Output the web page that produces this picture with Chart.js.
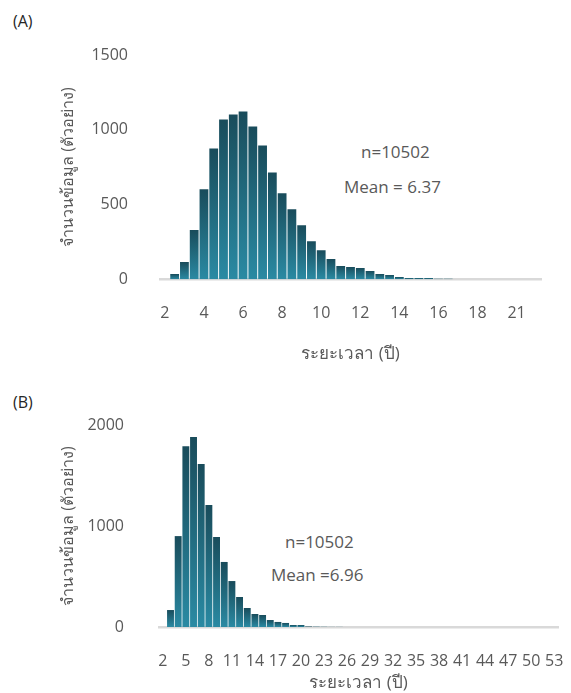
<!DOCTYPE html>
<html>
<head>
<meta charset="utf-8">
<script src="https://cdn.jsdelivr.net/npm/chart.js@4/dist/chart.umd.min.js"></script>
<style>
  html, body { margin: 0; padding: 0; background: #fff; }
  body { width: 571px; height: 693px; position: relative; overflow: hidden; font-family: "Open Sans", "Noto Sans", sans-serif; }
  .box { position: absolute; left: 0; width: 571px; }
  .lbl { position: absolute; white-space: nowrap; line-height: 1; }
  .panel { font-size: 16px; color: #262626; }
  .note { font-size: 17px; color: #595959; font-weight: 500; }
</style>
</head>
<body>
<div class="lbl panel" style="left:13px; top:13px;">(A)</div>
<div class="lbl panel" style="left:13px; top:394px;">(B)</div>
<div class="lbl note" style="left:361px; top:143px;">n=10502</div>
<div class="lbl note" style="left:344px; top:178px;">Mean = 6.37</div>
<div class="lbl note" style="left:285px; top:533px;">n=10502</div>
<div class="lbl note" style="left:271px; top:566px;">Mean =6.96</div>

<div class="box" style="top:30px; height:340px;"><canvas id="cA"></canvas></div>
<div class="box" style="top:380px; height:313px;"><canvas id="cB"></canvas></div>

<script>
// ---------- Data: panel (A) ----------
const categoriesA = ["2","2.5","3","3.5","4","4.5","5","5.5","6","6.5","7","7.5","8","8.5","9","9.5","10","10.5","11","11.5","12","12.5","13","13.5","14","14.5","15","15.5","16","16.5","17","17.5","18","18.5","19","20","21","21.5","22"];
const valuesA = [0,35,115,329,602,875,1069,1102,1122,1022,895,715,575,469,362,255,195,135,89,82,75,55,35,29,15,9,9,9,3,3,0,0,0,0,0,0,0,0,0];
const tickLabelsA = ["2","4","6","8","10","12","14","16","18","21"];
const yTicksA = [0, 500, 1000, 1500];

// ---------- Data: panel (B) ----------
const categoriesB = ["2","3","4","5","6","7","8","9","10","11","12","13","14","15","16","17","18","19","20","21","22","23","24","25","26","27","28","29","30","31","32","33","34","35","36","37","38","39","40","41","42","43","44","45","46","47","48","49","50","51","52","53"];
const valuesB = [0,168,900,1790,1880,1613,1208,891,644,455,297,188,129,119,69,50,40,20,20,5,3,2,1,1,0,0,0,0,0,0,0,0,0,0,0,0,0,0,0,0,0,0,0,0,0,0,0,0,0,0,0,0];
const tickLabelsB = ["2","5","8","11","14","17","20","23","26","29","32","35","38","41","44","47","50","53"];
const yTicksB = [0, 1000, 2000];

const yTitle = "จำนวนข้อมูล (ตัวอย่าง)";
const xTitle = "ระยะเวลา (ปี)";

const FONT = '"Open Sans", "Noto Sans", sans-serif';
const TXT = '#595959';

function barGradient(ctx) {
  const chart = ctx.chart;
  const y = chart.scales && chart.scales.y;
  if (!y || ctx.type !== 'data' || !ctx.raw) return '#216b80';
  const top = y.getPixelForValue(ctx.raw);
  const bottom = y.getPixelForValue(0);
  if (!isFinite(top) || !isFinite(bottom) || bottom - top < 0.5) return '#1d5f71';
  const g = chart.ctx.createLinearGradient(0, top, 0, bottom);
  g.addColorStop(0, '#194c5b');
  g.addColorStop(1, '#2a8aa3');
  return g;
}

function makeChart(id, cats, vals, tickLabels, step, yTicks, cfg) {
  return new Chart(document.getElementById(id), {
    type: 'bar',
    data: {
      labels: cats,
      datasets: [{
        data: vals,
        backgroundColor: barGradient,
        borderWidth: 0,
        barPercentage: 0.9,
        categoryPercentage: 1.0
      }]
    },
    options: {
      responsive: true,
      maintainAspectRatio: false,
      animation: false,
      layout: { padding: { left: 0, right: cfg.padRight, top: cfg.padTop, bottom: 0 } },
      plugins: { legend: { display: false }, tooltip: { enabled: false } },
      scales: {
        x: {
          type: 'category',
          grid: { display: false },
          border: { display: true, color: '#d9d9d9', width: 2.5 },
          ticks: {
            autoSkip: false, maxRotation: 0, minRotation: 0,
            color: TXT, font: { family: FONT, size: 16 }, padding: cfg.xTickPad,
            callback: (v, i) => (i % step === 0 ? tickLabels[i / step] : null)
          },
          title: { display: true, text: xTitle, color: TXT, font: { family: FONT, size: 17, weight: '500' }, padding: { top: 0, bottom: cfg.xTitlePad } },
          afterFit: s => { s.height = cfg.xHeight; s.paddingLeft = 0; s.paddingRight = 0; }
        },
        y: {
          min: 0, max: yTicks[yTicks.length - 1],
          grid: { display: false },
          border: { display: false },
          afterBuildTicks: s => { s.ticks = yTicks.map(v => ({ value: v })); },
          ticks: { color: TXT, font: { family: FONT, size: 16 }, padding: cfg.yTickPad, callback: v => String(v) },
          title: { display: true, text: yTitle, color: TXT, font: { family: FONT, size: 16, weight: 'normal' }, padding: { top: cfg.yTitlePad, bottom: 0 } },
          afterFit: s => { s.width = cfg.yWidth; s.paddingTop = 0; s.paddingBottom = 0; }
        }
      }
    }
  });
}

makeChart('cA', categoriesA, valuesA, tickLabelsA, 4, yTicksA, {
  padRight: 30, padTop: 25, xTickPad: 17, xTitlePad: 6, xHeight: 90.7, yTickPad: 24, yTitlePad: 59, yWidth: 160
});
makeChart('cB', categoriesB, valuesB, tickLabelsB, 3, yTicksB, {
  padRight: 13, padTop: 45, xTickPad: 17, xTitlePad: 0, xHeight: 66, yTickPad: 27, yTitlePad: 59, yWidth: 159
});
</script>
</body>
</html>
